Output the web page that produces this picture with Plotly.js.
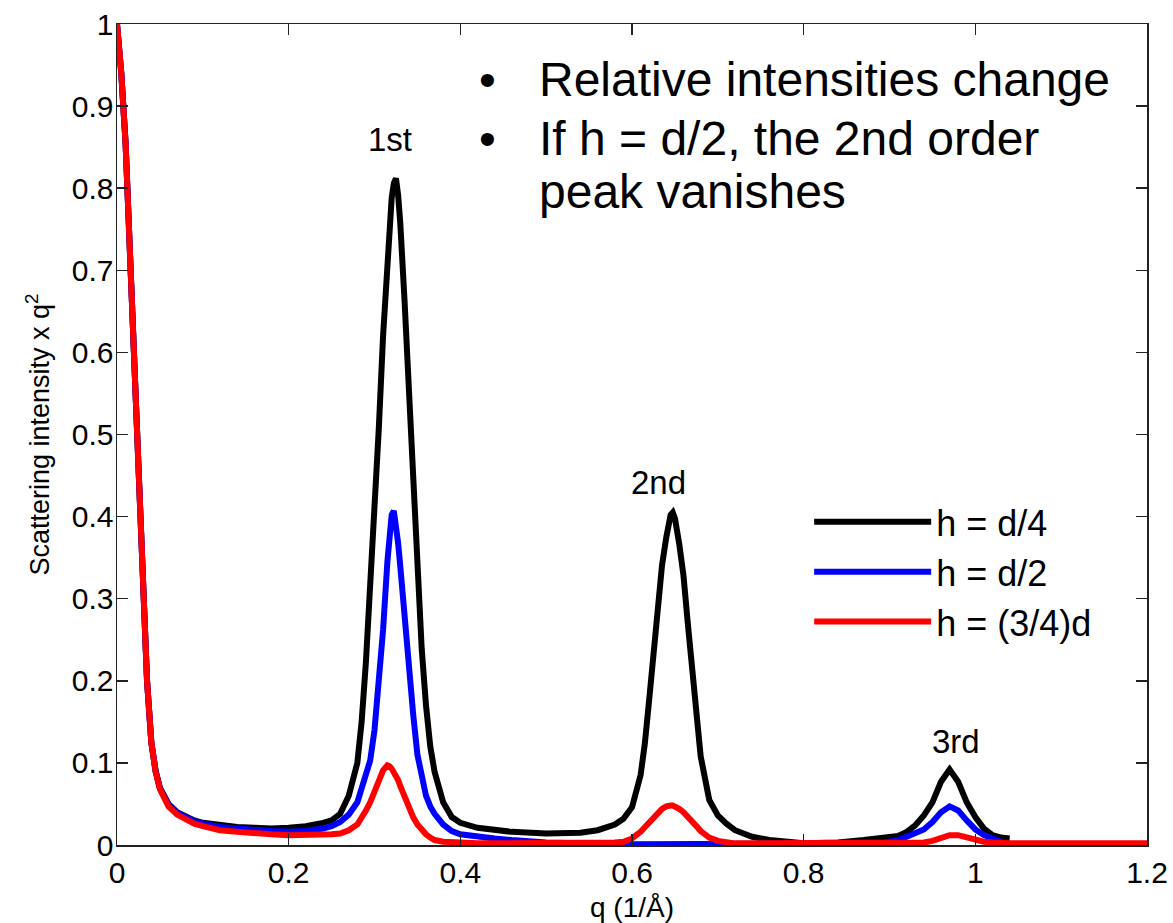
<!DOCTYPE html>
<html><head><meta charset="utf-8">
<script src="https://cdn.plot.ly/plotly-3.0.1.min.js"></script>
<style>html,body{margin:0;padding:0;background:#fff}#chart{width:1173px;height:923px}</style>
</head><body><div id="chart"></div>
<script>
// q grid (1/Å)
const q = [0.000,0.005,0.010,0.015,0.020,0.025,0.030,0.035,0.040,0.045,0.050,0.060,0.070,0.080,0.090,0.100,0.120,0.140,0.160,0.180,0.200,0.220,0.240,0.250,0.260,0.270,0.280,0.285,0.290,0.295,0.300,0.305,0.310,0.315,0.3175,0.320,0.3225,0.325,0.3275,0.330,0.335,0.340,0.345,0.350,0.355,0.360,0.365,0.370,0.380,0.390,0.400,0.420,0.440,0.460,0.500,0.540,0.560,0.580,0.590,0.600,0.610,0.615,0.620,0.625,0.630,0.635,0.640,0.6425,0.645,0.6475,0.650,0.655,0.660,0.665,0.670,0.675,0.680,0.690,0.700,0.710,0.720,0.740,0.760,0.800,0.840,0.870,0.890,0.900,0.910,0.920,0.930,0.940,0.950,0.960,0.970,0.980,0.990,1.000,1.010,1.020,1.030,1.040,1.050,1.100,1.200];

// h = d/4
const hQuarter = [1.000,0.940,0.855,0.715,0.585,0.440,0.310,0.200,0.125,0.090,0.070,0.050,0.040,0.034,0.030,0.027,0.024,0.022,0.021,0.020,0.021,0.023,0.027,0.030,0.038,0.060,0.100,0.150,0.223,0.312,0.409,0.507,0.620,0.720,0.758,0.788,0.806,0.812,0.792,0.758,0.663,0.552,0.437,0.328,0.239,0.170,0.120,0.089,0.052,0.034,0.027,0.021,0.018,0.016,0.014,0.015,0.018,0.025,0.032,0.046,0.085,0.124,0.177,0.235,0.290,0.341,0.375,0.392,0.402,0.405,0.398,0.367,0.328,0.270,0.212,0.156,0.108,0.055,0.036,0.026,0.018,0.010,0.006,0.002,0.003,0.006,0.008,0.009,0.011,0.016,0.024,0.036,0.052,0.077,0.092,0.077,0.052,0.034,0.020,0.012,0.009,0.008,null,null,null];

// h = d/2
const hHalf = [1.000,0.940,0.855,0.715,0.585,0.440,0.310,0.200,0.125,0.090,0.069,0.049,0.039,0.033,0.029,0.026,0.022,0.020,0.018,0.017,0.016,0.017,0.020,0.023,0.028,0.037,0.052,0.068,0.085,0.103,0.140,0.195,0.262,0.345,0.378,0.402,0.407,0.392,0.368,0.340,0.278,0.212,0.160,0.110,0.084,0.060,0.047,0.038,0.025,0.017,0.013,0.010,0.008,0.006,0.003,0.002,0.001,0.001,0.001,0.001,0.001,0.001,0.001,0.001,0.001,0.001,0.001,0.001,0.001,0.001,0.001,0.001,0.001,0.001,0.001,0.001,0.001,0.001,0.001,0.001,0.001,0.001,0.001,0.001,0.001,0.001,0.002,0.004,0.006,0.010,0.014,0.019,0.028,0.040,0.047,0.042,0.030,0.019,0.012,0.007,0.004,null,null,null,null];

// h = (3/4)d
const hThreeQuarter = [1.000,0.940,0.855,0.715,0.585,0.440,0.310,0.200,0.125,0.089,0.068,0.047,0.037,0.031,0.026,0.023,0.018,0.016,0.014,0.013,0.012,0.012,0.012,0.013,0.014,0.018,0.025,0.032,0.042,0.052,0.066,0.079,0.091,0.097,0.096,0.093,0.089,0.085,0.079,0.072,0.058,0.045,0.034,0.025,0.018,0.013,0.009,0.006,0.004,0.003,0.003,0.002,0.002,0.002,0.002,0.002,0.002,0.003,0.004,0.008,0.016,0.022,0.028,0.034,0.040,0.044,0.047,0.048,0.048,0.048,0.047,0.044,0.040,0.035,0.029,0.023,0.017,0.009,0.005,0.003,0.002,0.002,0.002,0.002,0.002,0.002,0.002,0.002,0.002,0.002,0.002,0.003,0.005,0.009,0.012,0.012,0.009,0.006,0.004,0.003,0.002,0.002,0.002,0.002,0.002];

const seriesNames = ['h = d/4', 'h = d/2', 'h = (3/4)d'];
const xTickVals = [0, 0.2, 0.4, 0.6, 0.8, 1, 1.2];
const xTickText = ['0', '0.2', '0.4', '0.6', '0.8', '1', '1.2'];
const yTickVals = [0, 0.1, 0.2, 0.3, 0.4, 0.5, 0.6, 0.7, 0.8, 0.9, 1];
const yTickText = ['0', '0.1', '0.2', '0.3', '0.4', '0.5', '0.6', '0.7', '0.8', '0.9', '1'];
const peakLabels = ['1st', '2nd', '3rd'];
const bulletLines = ['Relative intensities change', 'If h = d/2, the 2nd order', 'peak vanishes'];

const FONT = 'Liberation Sans, Arial, Helvetica, sans-serif';
const colors = ['#000000', '#0000ff', '#ff0000'];
const ys = [hQuarter, hHalf, hThreeQuarter];

const traces = ys.map((y, i) => ({
  type: 'scatter', mode: 'lines', x: q, y: y, name: seriesNames[i],
  line: {color: colors[i], width: 6}, connectgaps: false, hoverinfo: 'skip'
}));

const annotations = [
  {text: peakLabels[0], x: 0.3185, y: 0.859},
  {text: peakLabels[1], x: 0.6307, y: 0.441},
  {text: peakLabels[2], x: 0.978, y: 0.126}
].map(a => Object.assign(a, {xref: 'x', yref: 'y', showarrow: false, xanchor: 'center', yanchor: 'middle', font: {family: FONT, size: 33, color: '#000'}}));

const bulletY = [0.932, 0.860, 0.796];
bulletLines.forEach((t, i) => {
  annotations.push({text: t, x: 0.4895, y: bulletY[i], xref: 'x', yref: 'y', showarrow: false, xanchor: 'left', yanchor: 'middle', font: {family: FONT, size: 48, color: '#000'}});
});
[0, 1].forEach(i => {
  annotations.push({text: '•', x: 0.4315, y: bulletY[i], xref: 'x', yref: 'y', showarrow: false, xanchor: 'center', yanchor: 'middle', font: {family: FONT, size: 48, color: '#000'}});
});

const axisCommon = {
  showgrid: false, zeroline: false, showline: true, linecolor: '#222', linewidth: 1.5,
  ticks: 'inside', ticklen: 11, tickwidth: 1.5, tickcolor: '#222', mirror: 'ticks',
  tickfont: {family: FONT, size: 30, color: '#000'}, automargin: false
};

const layout = {
  width: 1173, height: 923,
  margin: {l: 117, r: 26, t: 24, b: 78},
  paper_bgcolor: '#fff', plot_bgcolor: '#fff',
  showlegend: true,
  legend: {x: 0.672, y: 0.43, xanchor: 'left', yanchor: 'top', bgcolor: 'rgba(0,0,0,0)', borderwidth: 0,
           font: {family: FONT, size: 36, color: '#000'}, itemwidth: 117, tracegroupgap: 0},
  xaxis: Object.assign({}, axisCommon, {range: [0, 1.2], tickvals: xTickVals, ticktext: xTickText,
    title: {text: 'q (1/Å)', font: {family: FONT, size: 28, color: '#000'}, standoff: 12}}),
  yaxis: Object.assign({}, axisCommon, {range: [0, 1], tickvals: yTickVals, ticktext: yTickText, ticklabelstandoff: -4,
    title: {text: 'Scattering intensity x q<sup>2</sup>', font: {family: FONT, size: 27, color: '#000'}, standoff: 14}}),
  annotations: annotations
};

Plotly.newPlot('chart', traces, layout, {displayModeBar: false, staticPlot: true});
</script>
</body></html>
